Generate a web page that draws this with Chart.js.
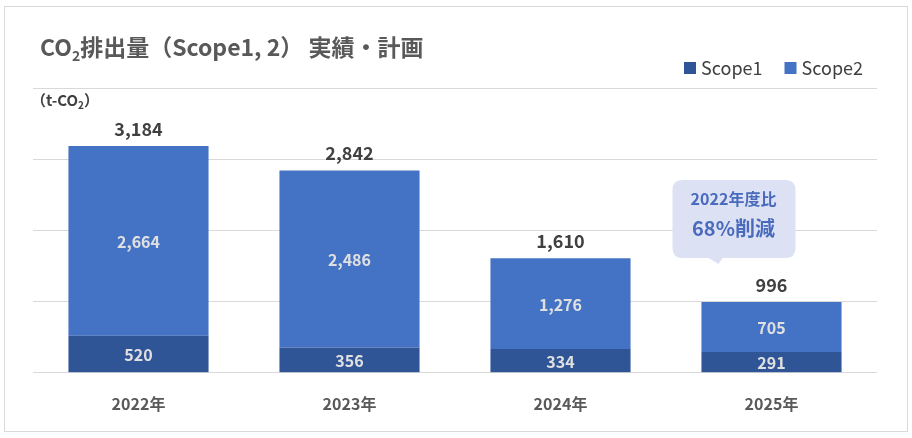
<!DOCTYPE html>
<html><head><meta charset="utf-8">
<script src="https://cdn.jsdelivr.net/npm/chart.js@4.4.0/dist/chart.umd.min.js"></script>
<style>html,body{margin:0;padding:0;background:#fff}#wrap{width:912px;height:438px}</style>
</head><body><div id="wrap"><canvas id="c" width="912" height="438"></canvas></div>
<script>
const categories = ['2022年','2023年','2024年','2025年'];
const scope1 = [520, 356, 334, 291];
const scope2 = [2664, 2486, 1276, 705];
const totals = [3184, 2842, 1610, 996];
const seriesNames = ['Scope1','Scope2'];
const colors = ['#2F5597','#4472C4'];
const FONT = '"Noto Sans CJK JP","Noto Sans",sans-serif';

function fmt(v){return v.toLocaleString('en-US');}

const deco = {
  id:'deco',
  beforeDraw(chart){
    const c = chart.ctx;
    c.save();
    c.fillStyle='#fff'; c.fillRect(0,0,chart.width,chart.height);
    c.strokeStyle='#d9d9d9'; c.lineWidth=1;
    c.strokeRect(4.5,6.5,903,425);
    c.restore();
  },
  afterDraw(chart){
    const c = chart.ctx;
    c.save();
    // title with subscript
    c.fillStyle='#595959';
    c.textBaseline='alphabetic';
    c.font='bold 23px '+FONT;
    let x=40, y=56;
    c.fillText('CO',x,y); x+=c.measureText('CO').width;
    c.font='bold 14px '+FONT;
    c.fillText('2',x,y+5); x+=c.measureText('2').width;
    c.font='bold 23px '+FONT;
    c.fillText('排出量（Scope1, 2） 実績・計画',x,y);
    // unit
    c.font='bold 15px '+FONT;
    x=31; y=106;
    c.fillStyle='#404040';
    c.fillText('（t-CO',x,y); x+=c.measureText('（t-CO').width;
    c.font='bold 10px '+FONT;
    c.fillText('2',x,y+3); x+=c.measureText('2').width;
    c.font='bold 15px '+FONT;
    c.fillText('）',x,y);
    // legend
    c.font='18px '+FONT;
    c.textBaseline='middle';
    let lx=684;
    chart.data.datasets.forEach((ds,i)=>{
      c.fillStyle=ds.backgroundColor;
      c.fillRect(lx,62,12,12);
      c.fillStyle='#404040';
      c.fillText(ds.label,lx+17,68);
      lx += 17 + c.measureText(ds.label).width + 22;
    });
    // data labels
    const m0=chart.getDatasetMeta(0), m1=chart.getDatasetMeta(1);
    c.textAlign='center';
    c.font='bold 16px '+FONT;
    c.fillStyle='#e0e0e0';
    m0.data.forEach((b,i)=>{c.fillText(fmt(scope1[i]),b.x,(b.y+b.base)/2+1);});
    m1.data.forEach((b,i)=>{c.fillText(fmt(scope2[i]),b.x,(b.y+b.base)/2+1);});
    c.font='bold 18px '+FONT;
    c.fillStyle='#404040';
    m1.data.forEach((b,i)=>{c.fillText(fmt(totals[i]),b.x,b.y-17);});
    // callout
    const last=m1.data[3];
    const bx=last.x-99, by=last.y-122, bw=123, bh=78, r=10;
    c.fillStyle='#dce2f3';
    c.beginPath();
    c.moveTo(bx+r,by);
    c.lineTo(bx+bw-r,by); c.quadraticCurveTo(bx+bw,by,bx+bw,by+r);
    c.lineTo(bx+bw,by+bh-r); c.quadraticCurveTo(bx+bw,by+bh,bx+bw-r,by+bh);
    c.lineTo(bx+50,by+bh); c.lineTo(bx+46,by+bh+6); c.lineTo(bx+36,by+bh);
    c.lineTo(bx+r,by+bh); c.quadraticCurveTo(bx,by+bh,bx,by+bh-r);
    c.lineTo(bx,by+r); c.quadraticCurveTo(bx,by,bx+r,by);
    c.closePath(); c.fill();
    c.fillStyle='#4a6abd';
    c.font='bold 16px '+FONT;
    c.fillText('2022年度比',bx+61,by+19);
    c.font='bold 20px '+FONT;
    c.fillText('68%削減',bx+61,by+49);
    c.restore();
  }
};

new Chart(document.getElementById('c'),{
  type:'bar',
  data:{labels:categories,datasets:[
    {label:seriesNames[0],data:scope1,backgroundColor:colors[0],barPercentage:0.664,categoryPercentage:1},
    {label:seriesNames[1],data:scope2,backgroundColor:colors[1],barPercentage:0.664,categoryPercentage:1}
  ]},
  options:{
    responsive:false,animation:false,
    layout:{padding:{left:33,right:35,top:88,bottom:10}},
    plugins:{legend:{display:false},tooltip:{enabled:false},title:{display:false}},
    scales:{
      x:{stacked:true,grid:{display:false},border:{display:false},
         ticks:{color:'#595959',font:{family:FONT,size:16,weight:'bold'},padding:14}},
      y:{stacked:true,min:0,max:4000,
         ticks:{display:false,stepSize:1000},
         grid:{color:'#d9d9d9',drawTicks:false},border:{display:false}}
    }
  },
  plugins:[deco]
});
</script></body></html>
